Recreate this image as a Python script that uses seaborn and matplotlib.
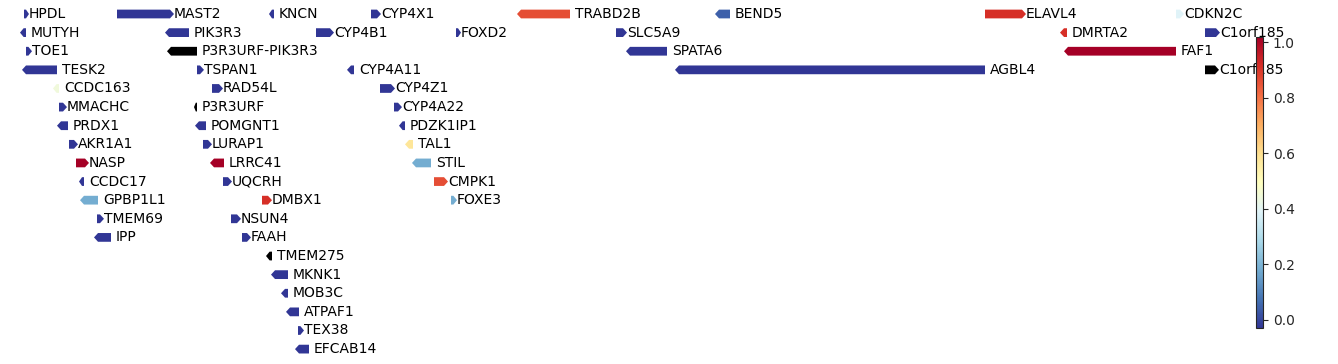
import numpy as np
import matplotlib
matplotlib.use("Agg")
import matplotlib.pyplot as plt
from matplotlib.patches import Polygon
import seaborn as sns

sns.set_style("white")
plt.rcParams['font.family'] = ['DejaVu Sans']

# gene name, track row, start, end (kb-like units), strand, score (nan = no score)
genes = ["HPDL", "MAST2", "KNCN", "CYP4X1", "TRABD2B", "BEND5", "ELAVL4", "CDKN2C",
         "MUTYH", "PIK3R3", "CYP4B1", "FOXD2", "SLC5A9", "DMRTA2", "C1orf185",
         "TOE1", "P3R3URF-PIK3R3", "SPATA6", "FAF1",
         "TESK2", "TSPAN1", "CYP4A11", "AGBL4", "C1orf185",
         "CCDC163", "RAD54L", "CYP4Z1",
         "MMACHC", "P3R3URF", "CYP4A22",
         "PRDX1", "POMGNT1", "PDZK1IP1",
         "AKR1A1", "LURAP1", "TAL1",
         "NASP", "LRRC41", "STIL",
         "CCDC17", "UQCRH", "CMPK1",
         "GPBP1L1", "DMBX1", "FOXE3",
         "TMEM69", "NSUN4",
         "IPP", "FAAH",
         "TMEM275", "MKNK1", "MOB3C", "ATPAF1", "TEX38", "EFCAB14"]
rows = [0, 0, 0, 0, 0, 0, 0, 0,
        1, 1, 1, 1, 1, 1, 1,
        2, 2, 2, 2,
        3, 3, 3, 3, 3,
        4, 4, 4,
        5, 5, 5,
        6, 6, 6,
        7, 7, 7,
        8, 8, 8,
        9, 9, 9,
        10, 10, 10,
        11, 11,
        12, 12,
        13, 14, 15, 16, 17, 18]
starts = [24, 117, 269, 371, 517, 715, 985, 1176,
          20, 165, 316, 456, 616, 1060, 1205,
          26, 167, 626, 1064,
          22, 197, 347, 675, 1205,
          53, 212, 380,
          59, 194, 394,
          57, 195, 399,
          69, 203, 405,
          76, 210, 412,
          79, 223, 434,
          80, 262, 451,
          97, 231,
          94, 242,
          266, 271, 281, 286, 298, 295]
ends = [29, 174, 274, 381, 570, 730, 1026, 1184,
        26, 189, 334, 461, 627, 1067, 1220,
        32, 197, 667, 1176,
        57, 204, 354, 985, 1219,
        59, 223, 395,
        67, 197, 402,
        68, 206, 405,
        78, 212, 413,
        89, 224, 431,
        84, 232, 448,
        98, 272, 457,
        104, 241,
        111, 251,
        272, 288, 288, 299, 304, 309]
strands = ["+", "+", "-", "+", "-", "-", "+", "+",
           "-", "-", "+", "+", "+", "-", "+",
           "+", "-", "-", "-",
           "-", "+", "-", "-", "+",
           "-", "+", "+",
           "+", "-", "+",
           "-", "-", "-",
           "+", "+", "-",
           "+", "-", "-",
           "-", "+", "+",
           "-", "+", "+",
           "+", "+",
           "-", "+",
           "-", "-", "-", "-", "+", "-"]
nan = float("nan")
scores = [0.0, 0.0, 0.0, 0.0, 0.85, 0.07, 0.9, 0.4,
          0.0, 0.0, 0.0, 0.0, 0.0, 0.9, 0.0,
          0.0, nan, 0.0, 1.0,
          0.0, 0.0, 0.0, 0.0, nan,
          0.45, 0.0, 0.0,
          0.0, nan, 0.0,
          0.0, 0.0, 0.0,
          0.0, 0.0, 0.58,
          1.0, 1.0, 0.2,
          0.0, 0.0, 0.85,
          0.2, 0.9, 0.2,
          0.0, 0.0,
          0.0, 0.0,
          nan, 0.0, 0.0, 0.0, 0.0, 0.0]

cmap = sns.color_palette("RdYlBu_r", as_cmap=True).copy()
cmap.set_bad("black")
norm = matplotlib.colors.Normalize(0, 1)

W, H = 1338, 364
fig = plt.figure(figsize=(W / 100, H / 100), dpi=100)
ax = fig.add_axes([0, 0, 1, 1])
ax.set_xlim(0, W)
ax.set_ylim(18.80, -0.752)
ax.axis("off")

half_h = 0.235
head = 4.0
for g, r, s, e, st, v in zip(genes, rows, starts, ends, strands, scores):
    color = "black" if np.isnan(v) else cmap(norm(v))
    L = e - s
    hl = min(head, L * 0.6)
    if st == "+":
        pts = [(s, r - half_h), (e - hl, r - half_h), (e, r), (e - hl, r + half_h), (s, r + half_h)]
        tx = e
    else:
        pts = [(e, r - half_h), (s + hl, r - half_h), (s, r), (s + hl, r + half_h), (e, r + half_h)]
        tx = e + 5
    ax.add_patch(Polygon(pts, closed=True, facecolor=color, edgecolor="none"))
    ax.text(tx, r, g, ha="left", va="center", fontsize=10, color="black")

cax = fig.add_axes([1256 / W, 1 - 328 / H, 7 / W, (328 - 37) / H])
sm = matplotlib.cm.ScalarMappable(norm=matplotlib.colors.Normalize(-0.029, 1.018), cmap=cmap)
cb = fig.colorbar(sm, cax=cax)
cb.set_ticks([0.0, 0.2, 0.4, 0.6, 0.8, 1.0])
cb.ax.tick_params(labelsize=10)

fig.savefig("out.png", dpi=100)
